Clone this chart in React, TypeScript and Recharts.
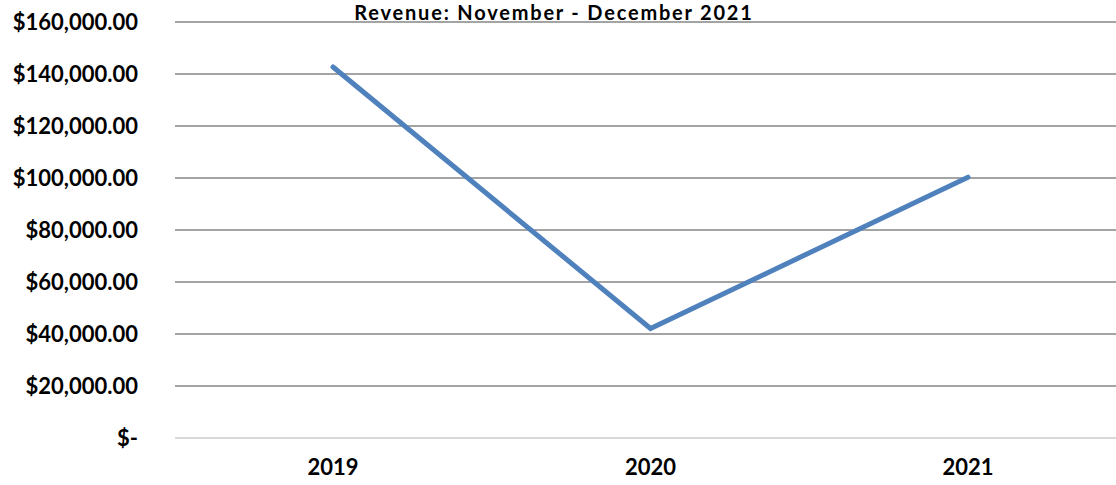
import { CartesianGrid, Line, LineChart, XAxis, YAxis } from 'recharts'

const years = ['2019', '2020', '2021']
const revenue = [142700, 42100, 100300]
const yTicks = [0, 20000, 40000, 60000, 80000, 100000, 120000, 140000, 160000]

const data = years.map((year, i) => ({ year, revenue: revenue[i] }))

const font = 'Lato, "Open Sans", sans-serif'

const money = (v: number) =>
  v === 0
    ? '$-'
    : '$' + v.toLocaleString('en-US', { minimumFractionDigits: 2, maximumFractionDigits: 2 })

export default function App() {
  return (
    <div style={{ position: 'absolute', left: 0, top: 0, width: 1116, height: 485, background: '#fff', fontFamily: font, overflow: 'hidden' }}>
      <LineChart width={1116} height={485} data={data} margin={{ top: 22, right: 0, bottom: 0, left: 0 }}>
        <CartesianGrid vertical={false} stroke="#868686" strokeWidth={1.5} />
        <XAxis
          dataKey="year"
          padding={{ left: 158, right: 148 }}
          height={47}
          tickLine={false}
          tickSize={0}
          tickMargin={21}
          axisLine={{ stroke: '#d9d9d9', strokeWidth: 2 }}
          tick={{ fill: '#000', fontSize: 22, fontWeight: 700, fontFamily: font }}
        />
        <YAxis
          domain={[0, 160000]}
          ticks={yTicks}
          width={175}
          axisLine={false}
          tickLine={false}
          tickSize={0}
          tickMargin={37}
          tickFormatter={money}
          tick={{ fill: '#000', fontSize: 22, fontWeight: 700, fontFamily: font }}
        />
        <Line
          type="linear"
          dataKey="revenue"
          stroke="#4f81bd"
          strokeWidth={5}
          strokeLinecap="round"
          dot={false}
          activeDot={false}
          isAnimationActive={false}
        />
      </LineChart>
      <div
        style={{
          position: 'absolute',
          top: 0,
          left: 0,
          width: 1108,
          textAlign: 'center',
          fontWeight: 700,
          fontSize: 20,
          lineHeight: 'normal',
          letterSpacing: 1.8,
          color: '#000',
        }}
      >
        Revenue: November - December 2021
      </div>
    </div>
  )
}
